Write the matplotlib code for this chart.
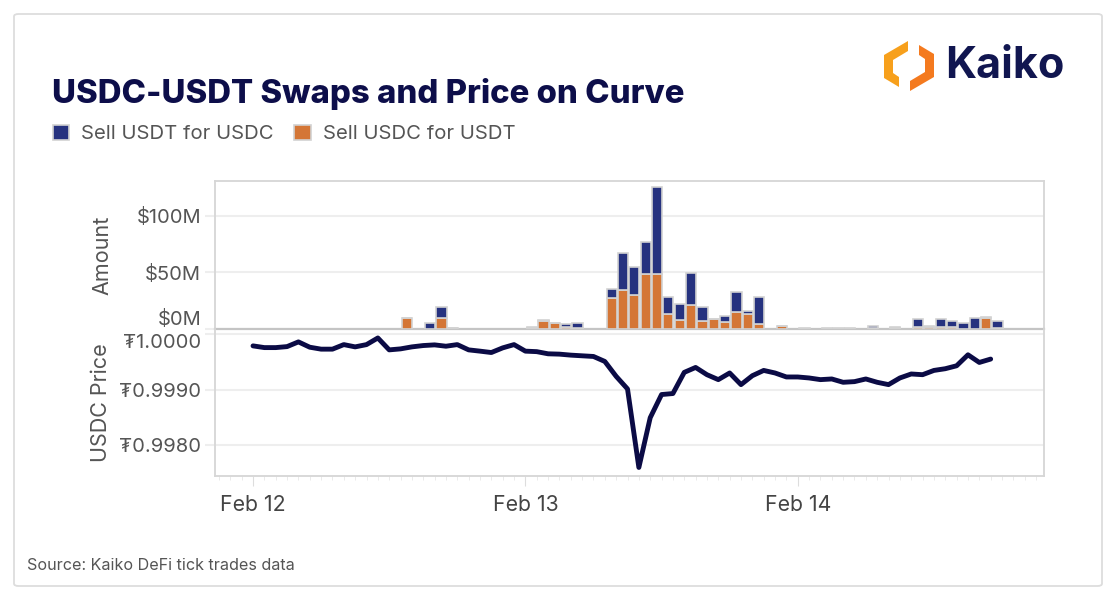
import numpy as np
import matplotlib.pyplot as plt
from matplotlib.patches import Patch, FancyBboxPatch, Polygon

plt.rcParams['font.family'] = ['Inter', 'DejaVu Sans']

# hourly swap volume on Curve (M USD), hour 0 = Feb 12 00:00
bar_hours = [13, 15, 16, 17, 24, 25, 26, 27, 28, 31, 32, 33, 34, 35, 36, 37, 38, 39, 40,
             41, 42, 43, 44, 46, 48, 50, 51, 52, 54, 56, 58, 59, 60, 61, 62, 63, 64, 65]
sell_usdc = [9.9, 0, 10, 0.5, 0.8, 7, 5.5, 1.5, 1, 27, 34.4, 30, 48.2, 48.2, 13.2, 7.9, 20.8, 7.3, 8.5,
             5.8, 14.7, 13.2, 4, 2.5, 0.3, 0.3, 0.3, 0.3, 0.5, 1, 2, 2, 2, 2, 0, 0, 9.9, 1]
sell_usdt = [0, 5.5, 9.3, 0.5, 0.8, 1, 0, 2.5, 4.5, 8, 32.4, 24.4, 28.8, 77.4, 15.3, 14.1, 28.3, 11.7, 0.5,
             5.9, 18.2, 2.6, 24.5, 0.5, 0.3, 0.3, 0.3, 0.3, 2, 1, 7, 0.5, 7, 5, 5.5, 9.9, 0.5, 6]

# USDC price in USDT, hourly
price = [0.999794, 0.999763, 0.999763, 0.999781, 0.999866, 0.999770, 0.999735, 0.999735,
         0.999817, 0.999776, 0.999817, 0.999937, 0.999722, 0.999740, 0.999776, 0.999800,
         0.999812, 0.999788, 0.999817, 0.999722, 0.999699, 0.999674, 0.999758, 0.999817,
         0.999699, 0.999690, 0.999651, 0.999645, 0.999627, 0.999615, 0.999603, 0.999513,
         0.999244, 0.999017, 0.997600, 0.998498, 0.998916, 0.998934, 0.999316, 0.999405,
         0.999274, 0.999185, 0.999305, 0.999095, 0.999256, 0.999351, 0.999305, 0.999233,
         0.999233, 0.999215, 0.999185, 0.999197, 0.999137, 0.999149, 0.999197, 0.999137,
         0.999095, 0.999215, 0.999287, 0.999274, 0.999351, 0.999382, 0.999435, 0.999633,
         0.999495, 0.999556]
price_hours = np.arange(len(price))

day_ticks = [0, 24, 48]
day_labels = ['Feb 12', 'Feb 13', 'Feb 14']
amount_ticks = [0, 50, 100]
amount_labels = ['$0M', '$50M', '$100M']
price_ticks = [0.998, 0.999, 1.0]
price_labels = ['₮0.9980', '₮0.9990', '₮1.0000']

BLUE = '#26327f'
ORANGE = '#d47636'
NAVY = '#0b0b45'
EDGE = '#d2d2d2'
GRID = '#eeeeee'
TXT = '#555555'

W, H = 1116, 600
fig = plt.figure(figsize=(W / 100, H / 100), dpi=100)

def fx(px):
    return px / W

def fy(py):
    return 1 - py / H

# card border
fig.patches.append(FancyBboxPatch((fx(14), fy(586)), fx(1088), 572 / H, boxstyle='round,pad=0,rounding_size=0.004',
                                  transform=fig.transFigure, fill=False, edgecolor='#dddddd', linewidth=1.3))

left, right = 215, 1044
ax1 = fig.add_axes([fx(left), fy(329), fx(right - left), (329 - 181) / H])
ax2 = fig.add_axes([fx(left), fy(476), fx(right - left), (476 - 329) / H], sharex=ax1)

xpos = np.array(bar_hours) + 0.6
ax1.bar(xpos, sell_usdc, width=0.9, color=ORANGE, edgecolor=EDGE, linewidth=1.2, zorder=3)
ax1.bar(xpos, sell_usdt, width=0.9, bottom=sell_usdc, color=BLUE, edgecolor=EDGE, linewidth=1.2, zorder=3)
ax1.set_ylim(0, 130.7)
ax1.set_xlim(-3.35, 69.7)
ax1.set_yticks(amount_ticks)
ax1.set_yticklabels(amount_labels)
ax1.tick_params(axis='x', which='both', bottom=False, labelbottom=False)
ax1.set_ylabel('Amount', color=TXT, fontsize=15.5, labelpad=17)

ax2.plot(price_hours, price, color=NAVY, linewidth=3.5, solid_joinstyle='round', solid_capstyle='round', zorder=3)
ax2.set_ylim(0.997446, 1.0000986)
ax2.set_yticks(price_ticks)
ax2.set_yticklabels(price_labels)
ax2.set_xticks(day_ticks)
ax2.set_xticklabels(day_labels)
ax2.set_xticks(np.arange(-3, 70), minor=True)
ax2.tick_params(axis='x', which='major', length=7, color='#dddddd', labelsize=15.3, labelcolor='#444444', pad=7)
ax2.tick_params(axis='x', which='minor', length=3, color='#e6e6e6')
ax2.set_ylabel('USDC Price', color=TXT, fontsize=15.5, labelpad=6)

for ax in (ax1, ax2):
    ax.set_facecolor('none')
    ax.grid(axis='y', color=GRID, linewidth=1.5, zorder=0)
    ax.tick_params(axis='y', length=7, color=GRID, width=1.5, labelsize=14.5, labelcolor=TXT, pad=3)
    for s in ax.spines.values():
        s.set_color('#d6d6d6')
        s.set_linewidth(1.3)
ax1.spines['bottom'].set_color('#c4c4c4')
ax1.spines['bottom'].set_linewidth(1.6)
ax2.spines['top'].set_visible(False)

# edge labels nudged inside, as in the original
ax1.get_yticklabels()[0].set_va('bottom')
ax2.get_yticklabels()[-1].set_va('top')

fig.text(fx(52), fy(94), 'USDC-USDT Swaps and Price on Curve', fontsize=23.7, fontweight='heavy',
         color='#0d0e4a', va='center', ha='left')

handles = [Patch(facecolor=BLUE, edgecolor=EDGE, linewidth=1.2),
           Patch(facecolor=ORANGE, edgecolor=EDGE, linewidth=1.2)]
fig.legend(handles, ['Sell USDT for USDC', 'Sell USDC for USDT'], loc='center left',
           bbox_to_anchor=(fx(53), fy(134)), ncol=2, frameon=False, fontsize=14.6,
           handlelength=0.8, handleheight=0.8, handletextpad=0.6, columnspacing=1.0,
           borderaxespad=0, borderpad=0, labelcolor=TXT)

fig.text(fx(27), fy(566), 'Source: Kaiko DeFi tick trades data', fontsize=11.6, color=TXT, va='center')

# Kaiko logo: hexagon ring split in two pieces
hexl = [(908, 41), (884, 55), (884, 78), (899, 87), (899, 77), (893, 73), (893, 60), (908, 51)]
hexr = [(910, 91), (934, 77), (934, 54), (919, 45), (919, 55), (925, 59), (925, 72), (910, 81)]
fig.patches.append(Polygon([(fx(a), fy(b)) for a, b in hexl], closed=True, transform=fig.transFigure,
                           facecolor='#f7a01c', edgecolor='none'))
fig.patches.append(Polygon([(fx(a), fy(b)) for a, b in hexr], closed=True, transform=fig.transFigure,
                           facecolor='#f47a1f', edgecolor='none'))
fig.text(fx(945), fy(67), 'Kaiko', fontsize=31, fontweight='bold', color='#111650', va='center', ha='left')

fig.savefig('out.png', dpi=100)
